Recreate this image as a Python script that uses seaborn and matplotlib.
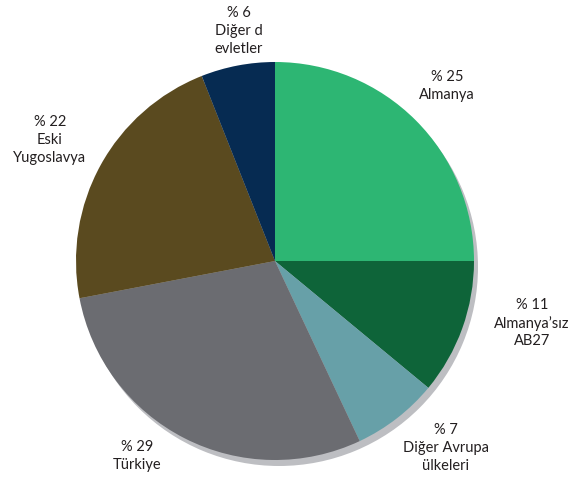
import matplotlib
matplotlib.use("Agg")
import matplotlib.pyplot as plt
import seaborn as sns

# Data
categories = ["Almanya", "Almanya’sız\nAB27", "Diğer Avrupa\nülkeleri", "Türkiye",
              "Eski\nYugoslavya", "Diğer d\nevletler"]
shares = [25, 11, 7, 29, 22, 6]
colors_hex = ["#2db673", "#0e6439", "#67a0a8", "#6b6c71", "#5a4a1f", "#062b52"]

sns.set_theme(style="white")
plt.rcParams['font.family'] = ['Lato', 'DejaVu Sans']

W, H = 572, 482
fig = plt.figure(figsize=(W / 100, H / 100), dpi=100)
ax = fig.add_axes([0, 0, 1, 1])

cx, cy, r = 275, H - 261, 199
palette = sns.color_palette(colors_hex)

# shadow
ax.pie([1], colors=["#bdbec2"], radius=r, center=(cx + 4, cy - 6),
       frame=True, wedgeprops=dict(linewidth=0))
ax.pie(shares, colors=palette, radius=r, center=(cx, cy), startangle=90,
       counterclock=False, frame=True, wedgeprops=dict(linewidth=0))
ax.set_xlim(0, W)
ax.set_ylim(0, H)
ax.set_aspect("equal")
ax.axis("off")

label_pos = [(447, 86), (532, 323), (446, 448), (137, 456), (50, 140), (239, 31)]
for cat, val, (x, y) in zip(categories, shares, label_pos):
    ax.text(x, H - y, f"% {val}\n{cat}", ha="center", va="center",
            fontsize=10.5, color="#231f20", linespacing=1.35)

fig.savefig("out.png", dpi=100)
